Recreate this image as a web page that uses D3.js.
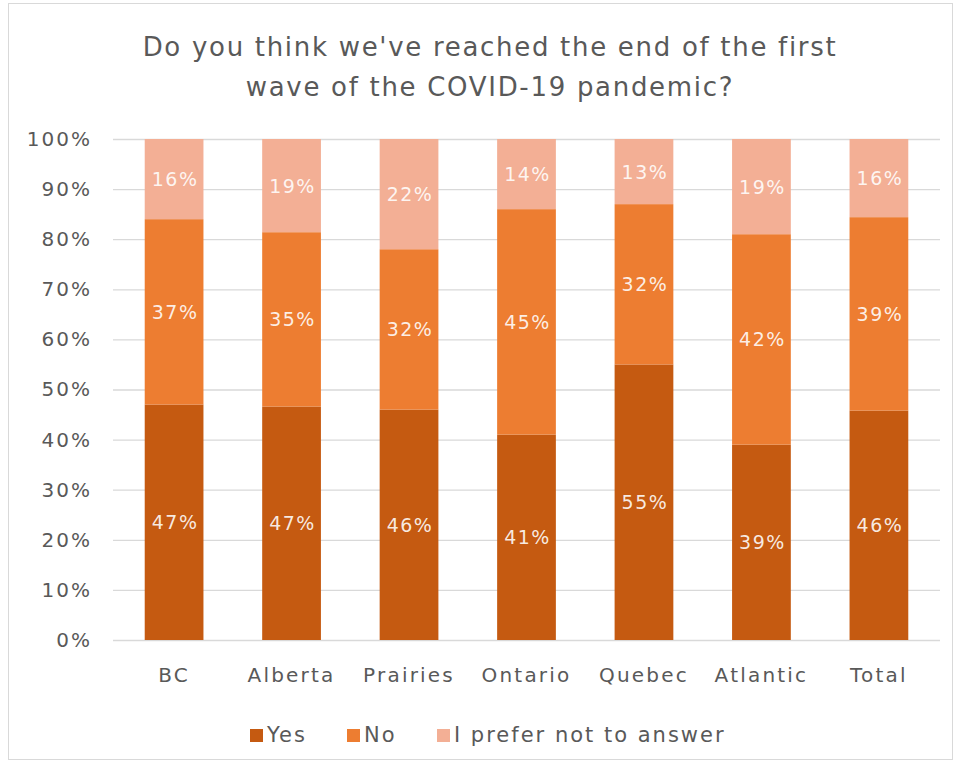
<!DOCTYPE html>
<html><head><meta charset="utf-8">
<script src="https://cdn.jsdelivr.net/npm/d3@7"></script>
<style>body{margin:0;background:#fff}svg{display:block}text{font-family:"DejaVu Sans",sans-serif}</style>
</head><body>
<svg id="c" width="956" height="768"></svg>
<script>
const categories = ["BC","Alberta","Prairies","Ontario","Quebec","Atlantic","Total"];
const yesValues  = [47, 46.6, 46, 41, 55, 39, 45.8];
const noValues   = [37, 34.8, 32, 45, 32, 42, 38.6];
const prefValues = [16, 18.6, 22, 14, 13, 19, 15.6];
const seriesNames = ["Yes","No","I prefer not to answer"];
const yTicks = [0,10,20,30,40,50,60,70,80,90,100];
const titleLines = ["Do you think we've reached the end of the first","wave of the COVID-19 pandemic?"];

const colors = ["#C55A11","#ED7D31","#F3AF95"];
const svg = d3.select("#c");
svg.append("rect").attr("x",8.5).attr("y",3.5).attr("width",944).attr("height",756)
  .attr("fill","#fff").attr("stroke","#D9D9D9");

svg.selectAll("text.title").data(titleLines).join("text").attr("class","title")
  .attr("x",490).attr("y",(d,i)=>56+i*40).attr("text-anchor","middle")
  .attr("font-size",26).attr("letter-spacing",1.7).attr("fill","#595959").text(d=>d);

const x = d3.scaleBand().domain(categories).range([113,940]).paddingInner(0.5).paddingOuter(0.27);
const y = d3.scaleLinear().domain([0,100]).range([640,139]);

svg.append("g").selectAll("line").data(yTicks).join("line")
  .attr("x1",113).attr("x2",940).attr("y1",d=>y(d)+0.5).attr("y2",d=>y(d)+0.5)
  .attr("stroke","#D9D9D9").attr("stroke-width",1.3);

const yAxis = svg.append("g").attr("transform","translate(113,0)")
  .call(d3.axisLeft(y).tickValues(yTicks).tickFormat(d=>d+"%").tickSize(0).tickPadding(21));
yAxis.select(".domain").remove();
yAxis.selectAll("text").attr("font-size",20).attr("letter-spacing",2).attr("fill","#595959").attr("font-family",null);

const xAxis = svg.append("g").attr("transform","translate(0,640)")
  .call(d3.axisBottom(x).tickSize(0).tickPadding(28));
xAxis.select(".domain").remove();
xAxis.selectAll("text").attr("font-size",20).attr("letter-spacing",2.2).attr("fill","#595959").attr("font-family",null);

const table = categories.map((c,i)=>({cat:c, Yes:yesValues[i], No:noValues[i], "I prefer not to answer":prefValues[i]}));
const stacked = d3.stack().keys(seriesNames)(table);

const layers = svg.selectAll("g.layer").data(stacked).join("g").attr("class","layer")
  .attr("fill",(d,i)=>colors[i]);
layers.selectAll("rect").data(d=>d).join("rect")
  .attr("x",d=>x(d.data.cat)).attr("width",x.bandwidth())
  .attr("y",d=>y(d[1])).attr("height",d=>y(d[0])-y(d[1]));
layers.selectAll("text").data(d=>d).join("text")
  .attr("x",d=>x(d.data.cat)+x.bandwidth()/2+1).attr("y",d=>(y(d[0])+y(d[1]))/2+7)
  .attr("text-anchor","middle").attr("font-size",19).attr("letter-spacing",1.5)
  .attr("fill","#fff").attr("fill-opacity",0.88)
  .text(d=>Math.round(d[1]-d[0])+"%");

const legendX = [250,347,437];
const lg = svg.selectAll("g.leg").data(seriesNames).join("g").attr("class","leg")
  .attr("transform",(d,i)=>`translate(${legendX[i]},0)`);
lg.append("rect").attr("x",0).attr("y",729).attr("width",13).attr("height",13).attr("fill",(d,i)=>colors[i]);
lg.append("text").attr("x",17).attr("y",742).attr("font-size",21).attr("letter-spacing",2).attr("fill","#595959").text(d=>d);
</script>
</body></html>
